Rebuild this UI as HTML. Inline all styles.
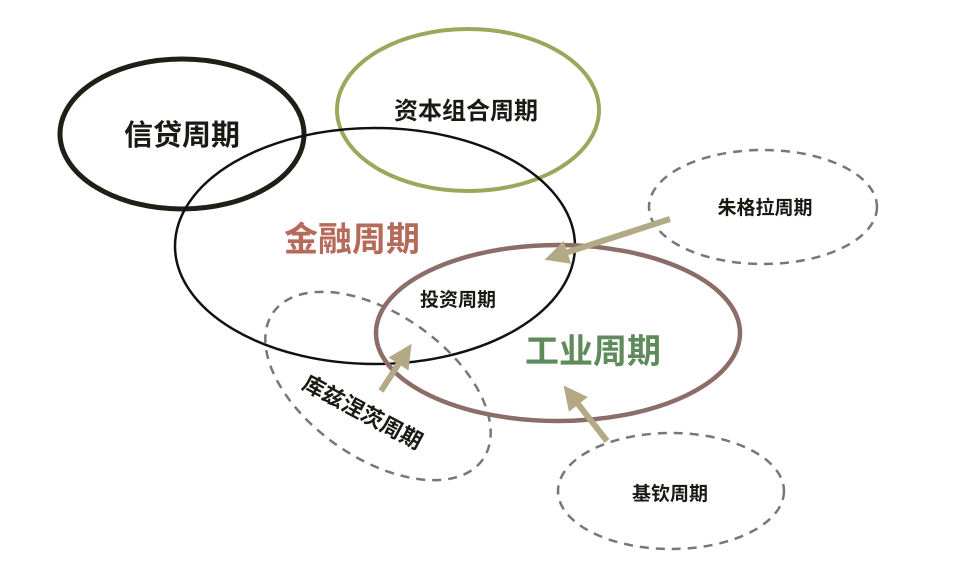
<!DOCTYPE html>
<html><head><meta charset="utf-8"><style>
html,body{margin:0;padding:0;background:#fff;}
svg{display:block}
text{font-family:"Liberation Sans","Noto Sans CJK SC",sans-serif;font-weight:bold;}
</style></head><body>
<svg width="960" height="572" viewBox="0 0 960 572" xmlns="http://www.w3.org/2000/svg">
<defs>
<marker id="ah" markerWidth="4" markerHeight="4" refX="2" refY="2" orient="auto" markerUnits="strokeWidth">
<path d="M0,0 L4,2 L0,4 Z" fill="#b3a984"/>
</marker>
</defs>
<rect width="960" height="572" fill="#fff"/>
<ellipse cx="182" cy="134" rx="122" ry="75" fill="none" stroke="#1f1f18" stroke-width="5"/>
<ellipse cx="468" cy="110" rx="131" ry="81" fill="none" stroke="#9aa85c" stroke-width="4"/>
<ellipse cx="375" cy="246" rx="200" ry="118" fill="none" stroke="#111" stroke-width="2.5"/>
<ellipse cx="763" cy="207" rx="114" ry="57" fill="none" stroke="#777" stroke-width="2.5" stroke-dasharray="9,7"/>
<ellipse cx="378" cy="386" rx="128" ry="72" transform="rotate(35 378 386)" fill="none" stroke="#777" stroke-width="2.5" stroke-dasharray="9,7"/>
<ellipse cx="671" cy="491" rx="113" ry="58" fill="none" stroke="#777" stroke-width="2.5" stroke-dasharray="9,7"/>
<ellipse cx="558" cy="333" rx="182" ry="88" fill="none" stroke="#8c6d68" stroke-width="4.5"/>
<line x1="670" y1="219" x2="556" y2="256" stroke="#b3a984" stroke-width="6" marker-end="url(#ah)"/>
<line x1="381" y1="391" x2="405" y2="354" stroke="#b3a984" stroke-width="6" marker-end="url(#ah)"/>
<line x1="607" y1="441" x2="571" y2="395" stroke="#b3a984" stroke-width="6" marker-end="url(#ah)"/>
<text x="182" y="145" font-size="29" text-anchor="middle" fill="#1a1a14">信贷周期</text>
<text x="466" y="119" font-size="24" text-anchor="middle" fill="#1a1a14">资本组合周期</text>
<text x="352" y="251" font-size="34" text-anchor="middle" fill="#b56a5a">金融周期</text>
<text x="458" y="306" font-size="19" text-anchor="middle" fill="#1a1a14">投资周期</text>
<text x="593" y="363" font-size="34" text-anchor="middle" fill="#5f8a5c">工业周期</text>
<text x="765" y="214" font-size="19" text-anchor="middle" fill="#1a1a14">朱格拉周期</text>
<text x="670" y="500" font-size="19" text-anchor="middle" fill="#1a1a14">基钦周期</text>
<text x="0" y="0" font-size="22" text-anchor="middle" fill="#1a1a14" transform="translate(359 419) rotate(28)">库兹涅茨周期</text>
</svg>
</body></html>
